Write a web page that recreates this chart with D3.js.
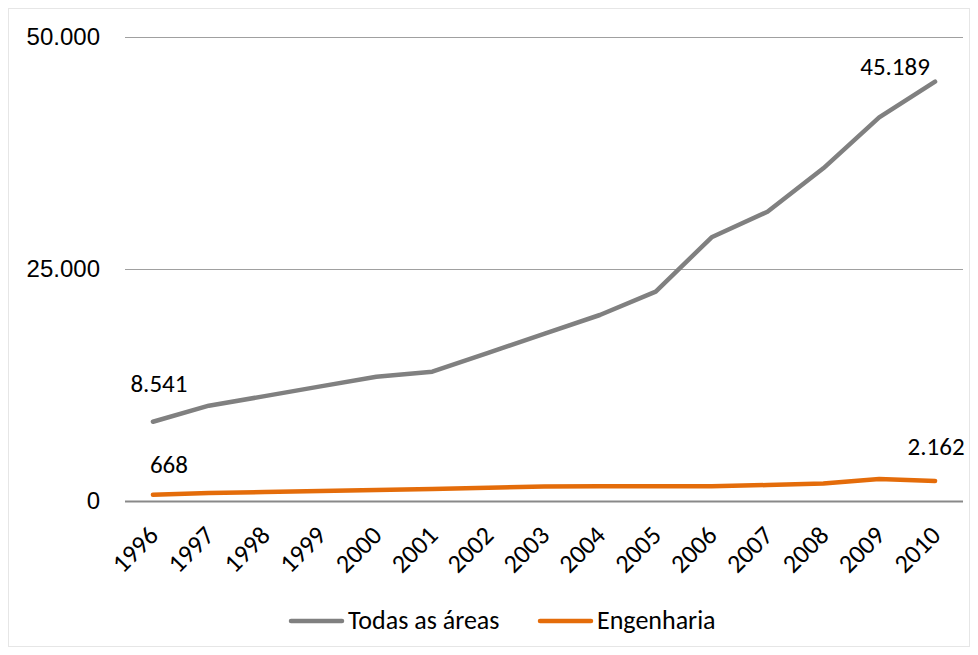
<!DOCTYPE html>
<html lang="pt-BR">
<head>
<meta charset="utf-8">
<script src="https://cdn.jsdelivr.net/npm/d3@7"></script>
<style>
  html, body { margin: 0; padding: 0; background: #ffffff; }
  svg { display: block; font-family: Carlito, Calibri, Lato, "Open Sans", sans-serif; }
</style>
</head>
<body>
<svg id="chart" width="978" height="655"></svg>
<script>
// Anos do eixo horizontal
const years = ["1996","1997","1998","1999","2000","2001","2002","2003","2004","2005","2006","2007","2008","2009","2010"];

// Séries
const todasAsAreas = [8541, 10270, 11300, 12350, 13395, 13934, 15970, 18007, 20043, 22554, 28416, 31175, 35851, 41347, 45189];
const engenharia   = [668, 862, 970, 1078, 1185, 1290, 1420, 1560, 1590, 1600, 1580, 1720, 1890, 2370, 2162];

const seriesNames  = ["Todas as áreas", "Engenharia"];
const seriesColors = ["#808080", "#e46c0a"];

// Marcas do eixo vertical
const yTicks = [0, 25000, 50000];

// Rótulos de dados: ano, série e deslocamento em relação ao ponto
const dataLabels = [
  { series: 0, year: "1996", dx: 6,   dy: -30 },
  { series: 0, year: "2010", dx: -40, dy: -7 },
  { series: 1, year: "1996", dx: 16,  dy: -22 },
  { series: 1, year: "2010", dx: 1,   dy: -26 }
];

const fmt = d3.formatLocale({ decimal: ",", thousands: ".", grouping: [3], currency: ["R$", ""] }).format(",d");

const svg = d3.select("#chart");

// Moldura do gráfico
svg.append("rect")
  .attr("x", 8.5).attr("y", 8.5)
  .attr("width", 961).attr("height", 638)
  .attr("fill", "#ffffff")
  .attr("stroke", "#e6e6e6").attr("stroke-width", 1);

const plot = { left: 125, right: 963, top: 37, bottom: 501 };

const x = d3.scalePoint().domain(years).range([plot.left, plot.right]).padding(0.5);
const y = d3.scaleLinear().domain([0, 50000]).range([plot.bottom, plot.top]);

// Linhas de grade horizontais
const yAxis = d3.axisLeft(y).tickValues(yTicks).tickSize(-(plot.right - plot.left)).tickPadding(25).tickFormat(fmt);
const gy = svg.append("g").attr("transform", `translate(${plot.left},0)`).call(yAxis);
gy.select(".domain").remove();
gy.selectAll(".tick line")
  .attr("stroke", d => d === 0 ? "#898989" : "#a0a0a0")
  .attr("stroke-width", d => d === 0 ? 2 : 1.2);
gy.selectAll(".tick text")
  .attr("fill", "#000").attr("font-size", 24);

// Rótulos dos anos, girados
const gx = svg.append("g");
gx.selectAll("text").data(years).join("text")
  .attr("transform", d => `translate(${x(d) + 7},537) rotate(-45)`)
  .attr("text-anchor", "end")
  .attr("font-size", 26)
  .attr("fill", "#000")
  .text(d => d);

// Linhas das séries
const seriesData = [todasAsAreas, engenharia];
const line = d3.line().x((d, i) => x(years[i])).y(d => y(d));

svg.append("g").selectAll("path").data(seriesData).join("path")
  .attr("d", d => line(d))
  .attr("fill", "none")
  .attr("stroke", (d, i) => seriesColors[i])
  .attr("stroke-width", 4.5)
  .attr("stroke-linejoin", "round")
  .attr("stroke-linecap", "round");

// Rótulos de valores
svg.append("g").selectAll("text").data(dataLabels).join("text")
  .attr("x", d => x(d.year) + d.dx)
  .attr("y", d => y(seriesData[d.series][years.indexOf(d.year)]) + d.dy)
  .attr("text-anchor", "middle")
  .attr("font-size", 25)
  .attr("fill", "#000")
  .text(d => fmt(seriesData[d.series][years.indexOf(d.year)]));

// Legenda
const legendItems = [
  { name: seriesNames[0], color: seriesColors[0], x: 289 },
  { name: seriesNames[1], color: seriesColors[1], x: 538 }
];
const lg = svg.append("g");
legendItems.forEach(it => {
  lg.append("line")
    .attr("x1", it.x + 2).attr("x2", it.x + 53)
    .attr("y1", 621).attr("y2", 621)
    .attr("stroke", it.color).attr("stroke-width", 4.5)
    .attr("stroke-linecap", "round");
  lg.append("text")
    .attr("x", it.x + 59).attr("y", 629)
    .attr("font-size", 26).attr("fill", "#000")
    .text(it.name);
});
</script>
</body>
</html>
